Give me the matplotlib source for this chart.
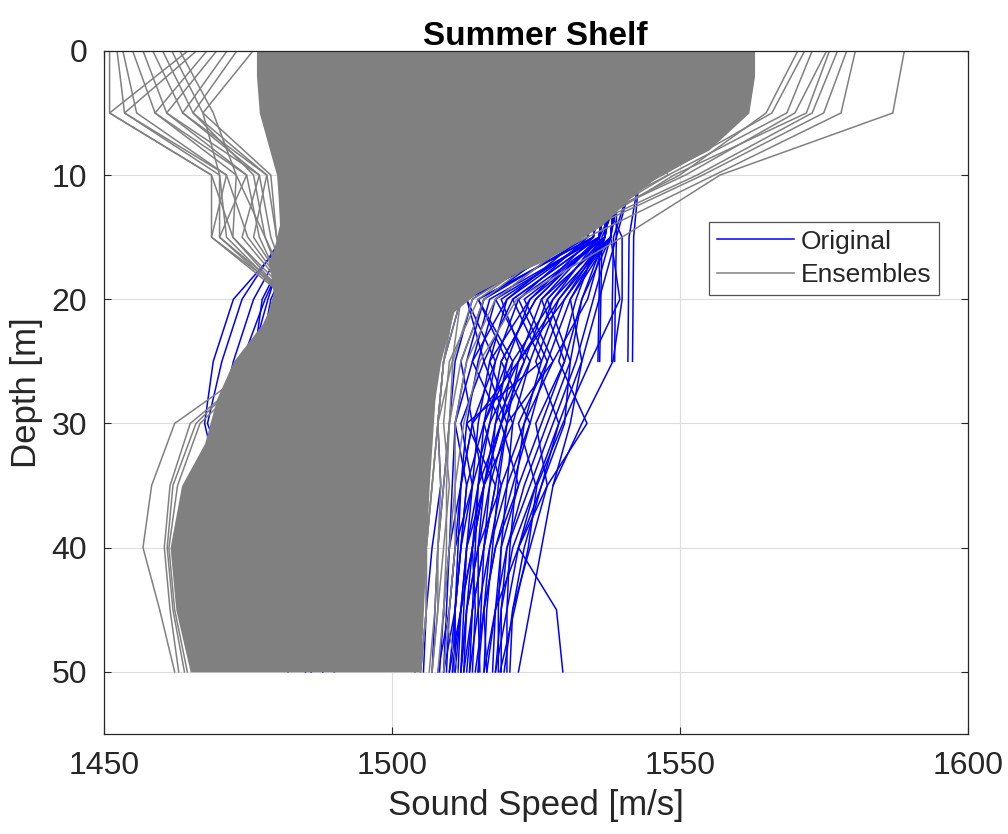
import numpy as np
import matplotlib
matplotlib.use('Agg')
import matplotlib.pyplot as plt

plt.rcParams['font.family'] = ['Liberation Sans', 'DejaVu Sans']

nan = np.nan

# depth levels of every profile [m]
depth = [0, 5, 10, 15, 20, 25, 30, 35, 40, 45, 50]

# original (measured) sound speed profiles [m/s]
original = [
    # shallow cold-side profiles
    [1505, 1500, 1490, 1482, 1472.5, 1469, 1467.5, 1470, 1475, 1480, 1485],
    [1505, 1500, 1490, 1481, 1474, 1470.5, 1468, 1472, 1476, 1480, 1485],
    [1505, 1500, 1488, 1482, 1476, 1472.5, 1470, 1473, 1478, 1482, 1486],
    [1505, 1500, 1488, 1483, 1478, 1474, 1471, 1474, 1478, 1482, 1486],
    [1505, 1500, 1490, 1483, 1477.5, 1476, 1473, 1475, 1480, 1484, 1488],
    [1505, 1500, 1490, 1484, 1479, 1477, 1475, 1478, 1482, 1486, 1490],
    [1505, 1500, 1490, 1482, 1478.5, 1475.5, 1472, 1476, 1480, 1485, 1488],
    # warm-side profiles
    [1515, 1520, 1532, 1528, 1512, 1509, 1508, 1508.5, 1507, 1506, 1505.5],
    [1515, 1520, 1533, 1530, 1514, 1511, 1510, 1509, 1508, 1507.5, 1507],
    [1516, 1522, 1534, 1531, 1516, 1513, 1511, 1510.5, 1510, 1509.5, 1509],
    [1516, 1522, 1535, 1532, 1518, 1515, 1513, 1512, 1511.5, 1511, 1511],
    [1517, 1523, 1536, 1533, 1520, 1517, 1515, 1514, 1513, 1512.5, 1512],
    [1518, 1524, 1537, 1534, 1522, 1518, 1516, 1515, 1514.5, 1514, 1513.5],
    [1518, 1524, 1537, 1535, 1524, 1520, 1518, 1517, 1516, 1515.5, 1515],
    [1519, 1525, 1538, 1536, 1526, 1522, 1520, 1518.5, 1517.5, 1516.5, 1516],
    [1519, 1525, 1538, 1536, 1528, 1524, 1521, 1520, 1519, 1518.5, 1518.5],
    [1520, 1526, 1539, 1537, 1530, 1526, 1523, 1521.5, 1520.5, 1520, 1520],
    [1520, 1526, 1539, 1538, 1539.6, 1534.5, 1529.7, 1525.2, 1523.7, 1521.3, 1518.8],
    [1515, 1518, 1535, 1540, 1540, 1538.4, 1533, 1528, nan, nan, nan],
    [1520, 1525, 1537, 1537, 1533, 1531, 1530, 1526, 1522, 1528.6, 1529.7],
    [1517, 1522, 1535, 1534, 1516, 1512, 1514, 1512, 1510, 1509, 1508.3],
    [1518, 1523, 1536, 1535, 1520, 1514, 1511, 1513, 1512, 1511, 1510.6],
    [1518, 1524, 1537, 1536, 1525, 1519, 1517, 1515, 1514, 1514.5, 1514],
    [1519, 1525, 1538, 1537, 1527, 1523, 1519, 1516, 1515, 1515, 1515.3],
    [1519, 1525, 1538, 1537, 1531, 1527, 1524, 1520, 1517, 1516, 1516.5],
    [1520, 1526, 1539, 1538, 1533, 1530, 1526, 1522, 1519, 1518, 1517.5],
    [1520, 1526, 1539, 1538, 1535, 1532, 1528, 1524, 1520, 1519, 1519],
    [1520, 1526, 1539, 1538, 1530, 1522, 1517, 1514, 1512, 1511, 1510],
    [1520, 1526, 1539, 1538, 1528, 1521, 1519, 1516, 1514, 1513, 1512.5],
    [1521, 1527, 1538, 1536, 1532, 1529, 1533.9, 1527, 1522, 1518, 1516],
    [1518, 1524, 1536, 1535, 1515, 1521, 1516, 1519, 1515, 1513, 1512],
    [1519, 1525, 1537, 1536, 1518, 1524, 1519, 1522, 1518, 1516, 1514.5],
    [1520, 1526, 1538, 1537, 1522, 1527, 1522, 1525, 1521, 1519, 1518],
    [1517, 1523, 1535, 1533, 1513, 1516, 1512, 1514, 1511, 1510, 1509.5],
    [1521, 1527, 1539, 1538, 1526, 1530, 1525, 1527, 1524, 1521, 1520.5],
    [1520, 1526, 1538, 1537, 1524, 1517, 1521, 1516, 1513, 1512, 1511.5],
    [1519, 1525, 1537, 1536, 1521, 1526, 1513, 1518, 1516, 1514, 1513],
    [1521, 1527, 1539, 1539, 1536, 1533, 1531, 1528, 1526, 1524, 1522],
    [1518, 1524, 1536, 1534, 1513, 1518, 1514, 1512, 1511, 1510, 1508],
    [1519, 1525, 1537, 1535, 1515, 1520, 1516, 1513, 1512, 1511, 1509],
    [1520, 1526, 1538, 1536, 1517, 1514, 1519, 1515, 1513, 1512, 1510.5],
    [1519, 1525, 1537, 1535, 1519, 1523, 1518, 1516, 1514, 1512, 1511],
    [1520, 1526, 1538, 1536, 1521, 1516, 1520, 1517, 1515, 1513, 1512],
    [1521, 1527, 1539, 1537, 1523, 1528, 1523, 1519, 1517, 1515, 1513.5],
    [1520, 1526, 1538, 1536, 1525, 1519, 1524, 1521, 1518, 1516, 1515],
    [1521, 1527, 1539, 1537, 1527, 1531, 1527, 1523, 1520, 1518, 1516.5],
    [1522, 1528, 1540, 1538, 1529, 1525, 1529, 1525, 1522, 1520, 1518],
    [1522, 1528, 1540, 1538, 1531, 1533, 1529, 1526, 1523, 1521, 1519.5],
    [1521, 1527, 1539, 1537, 1529, 1522, 1514, 1516, 1514, 1512, 1510],
    [1520, 1526, 1538, 1537, 1534, 1528, 1520, 1518, 1516, 1514, 1512.5],
    # casts that stop at 25 m
    [1525, 1530, 1541, 1536.1, 1536.0, 1535.8, nan, nan, nan, nan, nan],
    [1525, 1530, 1541, 1536.5, 1536.3, 1536.1, nan, nan, nan, nan, nan],
    [1525, 1530, 1542, 1538.5, 1538.3, 1538.2, nan, nan, nan, nan, nan],
    [1525, 1530, 1542, 1539.0, 1538.8, 1538.7, nan, nan, nan, nan, nan],
    [1526, 1531, 1543, 1541.2, 1541.1, 1541.0, nan, nan, nan, nan, nan],
    [1526, 1531, 1543, 1542.0, 1541.9, 1541.8, nan, nan, nan, nan, nan],
]

# envelope of the bulk of the ensemble members [m/s]
env_depth = [0, 2, 5, 8, 10, 12, 14, 16, 17, 18, 19.5, 21, 22, 25, 28, 31.6, 35, 40, 45, 50]
env_left = [1476.5, 1476.5, 1477, 1478.8, 1480, 1480.3, 1480.5, 1479.5, 1478.5, 1479,
            1479.4, 1478.5, 1477.5, 1472.5, 1469.6, 1467.5, 1463.5, 1461.5, 1462.5, 1465]
env_right = [1563, 1563, 1562, 1555, 1546.5, 1541, 1536.6, 1530, 1526, 1521, 1514.8,
             1510.8, 1510.2, 1508.5, 1507.5, 1507, 1506.5, 1506, 1505.5, 1505]

# individual ensemble members outside the bulk [m/s]
ensembles = [
    # cold surface layer
    [1451.0, 1451.0, 1468.7, 1468.7, 1483, 1488, 1485, 1483, 1482, 1482, 1482],
    [1452.3, 1453.6, 1470.1, 1470.1, 1483, 1488, 1485, 1483, 1482, 1482, 1482],
    [1453.3, 1455.7, 1471.3, 1468.7, 1482, 1488, 1485, 1483, 1482, 1482, 1482],
    [1455.0, 1458.9, 1473.0, 1472.4, 1483, 1488, 1485, 1483, 1482, 1482, 1482],
    [1456.8, 1460.9, 1474.8, 1470.1, 1482, 1488, 1485, 1483, 1482, 1482, 1482],
    [1458.5, 1463.7, 1477.0, 1474.0, 1483, 1488, 1485, 1483, 1482, 1482, 1482],
    [1460.2, 1465.5, 1478.3, 1476.0, 1483, 1488, 1485, 1483, 1482, 1482, 1482],
    [1461.8, 1467.2, 1470.1, 1471.3, 1482, 1488, 1485, 1483, 1482, 1482, 1482],
    [1463.2, 1469.0, 1473.0, 1478.0, 1483, 1488, 1485, 1483, 1482, 1482, 1482],
    [1464.6, 1451.0, 1468.7, 1472.4, 1482, 1488, 1485, 1483, 1482, 1482, 1482],
    [1466.1, 1453.6, 1471.3, 1475.0, 1483, 1488, 1485, 1483, 1482, 1482, 1482],
    [1467.9, 1458.9, 1474.8, 1477.0, 1482, 1488, 1485, 1483, 1482, 1482, 1482],
    [1469.6, 1460.9, 1477.0, 1479.0, 1483, 1488, 1485, 1483, 1482, 1482, 1482],
    [1471.4, 1463.7, 1478.3, 1480.0, 1483, 1488, 1485, 1483, 1482, 1482, 1482],
    [1473.1, 1465.5, 1476.0, 1478.0, 1482, 1488, 1485, 1483, 1482, 1482, 1482],
    [1475.9, 1467.2, 1479.0, 1480.0, 1483, 1488, 1485, 1483, 1482, 1482, 1482],
    # cold bottom layer
    [1490, 1488, 1485, 1483, 1480, 1477.5, 1462.3, 1458.3, 1456.8, 1459.7, 1462.3],
    [1490, 1488, 1485, 1483, 1481, 1478, 1465.0, 1461.5, 1460.5, 1461.5, 1463.0],
    [1490, 1488, 1485, 1483, 1481, 1477, 1466.0, 1462.0, 1461.0, 1462.0, 1464.0],
    [1490, 1488, 1486, 1484, 1482, 1478, 1466.7, 1462.8, 1461.3, 1462.3, 1464.5],
    # warm surface layer
    [1589.0, 1587.0, 1557.0, 1540.0, 1521.7, 1515.3, 1512.5, 1511, 1510, 1509, 1508],
    [1576.0, 1572.0, 1549.0, 1531.5, 1514.0, 1510.6, 1510.0, 1509, 1508, 1508, 1507],
    [1580.5, 1578.0, 1556.0, 1534.0, 1512.0, 1509, 1508, 1507, 1506, 1506, 1505],
    [1577.4, 1573.0, 1553.0, 1530.0, 1511.0, 1509, 1508, 1507, 1506, 1506, 1505],
    [1575.5, 1570.0, 1551.0, 1528.0, 1510.0, 1508, 1507, 1506, 1505, 1505, 1504],
    [1573.0, 1568.6, 1548.0, 1527.0, 1510.0, 1508, 1507, 1506, 1505, 1505, 1504],
    [1571.7, 1566.0, 1547.0, 1526.0, 1510.0, 1508, 1507, 1506, 1505, 1505, 1504],
    [1579.0, 1575.0, 1554.0, 1531.0, 1511.0, 1509, 1508, 1507, 1506, 1506, 1505],
    [1570.5, 1565.0, 1550.0, 1529.0, 1510.0, 1508, 1507, 1506, 1505, 1505, 1504],
    # warm bottom layer
    [1530, 1540, 1548, 1530, 1515, 1510.0, 1509, 1510.0, 1509, 1508.0, 1507.0],
    [1528, 1535, 1545, 1532, 1518, 1513.0, 1511, 1511.0, 1511, 1510.0, 1509.0],
    [1526, 1533, 1543, 1528, 1512, 1510.5, 1508, 1508.5, 1508, 1507.5, 1506.5],
    [1527, 1534, 1544, 1530, 1516, 1512.0, 1510, 1509.5, 1509.5, 1509.0, 1511.5],
]

blue = '#0000ff'
gray = '#808080'
txt = '#262626'

fig = plt.figure(figsize=(10.08, 8.34), dpi=100)
ax = fig.add_axes([0.103, 0.120, 0.857, 0.819])

# originals first, ensembles drawn on top of them
for k, prof in enumerate(original):
    ax.plot(prof, depth, color=blue, lw=1.1, zorder=2,
            label='Original' if k == 0 else None)

ax.fill_betweenx(env_depth, env_left, env_right, color=gray, lw=0, zorder=2.5)
for k, prof in enumerate(ensembles):
    ax.plot(prof, depth, color=gray, lw=1.1, zorder=3,
            label='Ensembles' if k == 0 else None)

ax.set_xlim(1450, 1600)
ax.set_ylim(55, 0)
ax.set_xticks([1450, 1500, 1550, 1600])
ax.set_yticks([0, 10, 20, 30, 40, 50])
ax.grid(True, color='#dcdcdc', lw=0.8)
ax.set_axisbelow(True)
ax.tick_params(direction='in', length=5, width=0.8, top=True, right=True,
               colors=txt, labelsize=23, pad=12)
for s in ax.spines.values():
    s.set_color(txt)
    s.set_linewidth(0.9)
    s.set_zorder(5)

ax.set_xlabel('Sound Speed [m/s]', fontsize=25, color=txt, labelpad=6)
ax.set_ylabel('Depth [m]', fontsize=25, color=txt, labelpad=6)
ax.set_title('Summer Shelf', fontsize=24, fontweight='bold', color='black', pad=4)

leg = ax.legend(loc='upper left', bbox_to_anchor=(0.701, 0.750), fontsize=19,
                frameon=True, fancybox=False, edgecolor=txt, handlelength=2.9,
                handletextpad=0.25, borderpad=0.3, labelspacing=0.35, borderaxespad=0)
leg.get_frame().set_linewidth(0.9)
leg.set_zorder(6)
for t in leg.get_texts():
    t.set_color(txt)

fig.savefig('out.png', dpi=100)
